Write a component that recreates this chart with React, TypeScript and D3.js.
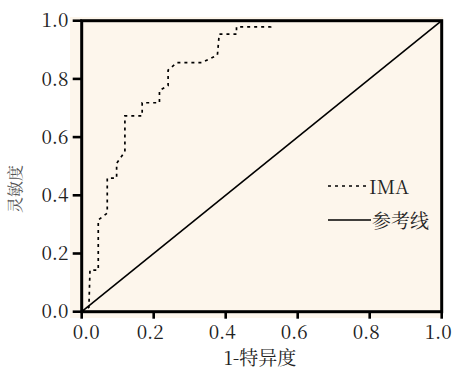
import React from "react";
import * as d3 from "d3";

const ticks = [0, 0.2, 0.4, 0.6, 0.8, 1.0];
const tickLabels = ["0.0", "0.2", "0.4", "0.6", "0.8", "1.0"];
const fpr = [0, 0.02, 0.023, 0.046, 0.046, 0.071, 0.071, 0.097, 0.097, 0.12, 0.12, 0.168, 0.168, 0.216, 0.216, 0.24, 0.24, 0.264, 0.333, 0.377, 0.382, 0.43, 0.43, 0.525, 0.527];
const tpr = [0, 0.015, 0.143, 0.143, 0.315, 0.339, 0.459, 0.459, 0.51, 0.55, 0.673, 0.673, 0.718, 0.718, 0.76, 0.777, 0.83, 0.856, 0.856, 0.882, 0.954, 0.954, 0.979, 0.979, 0.988];
const refX = [0, 1];
const refY = [0, 1];
const xTitle = "1-特异度";
const yTitle = "灵敏度";
const legendNames = ["IMA", "参考线"];

export default function App() {
  const W = 453, H = 372;
  const x = d3.scaleLinear().domain([0, 1]).range([81.7, 441.7]);
  const y = d3.scaleLinear().domain([0, 1]).range([311.7, 20.7]);
  const lineGen = d3.line<[number, number]>().x(d => x(d[0])).y(d => y(d[1]));
  const roc = lineGen(fpr.map((v, i) => [v, tpr[i]] as [number, number]));
  const ref = lineGen(refX.map((v, i) => [v, refY[i]] as [number, number]));
  const font = "\"Noto Serif CJK SC\", \"Times New Roman\", serif";
  const bg = "#fdf6ec";
  const txt = "#222";
  return (
    <svg width={W} height={H} style={{ position: "absolute", left: 0, top: 0, fontFamily: font }}>
      <rect x={0} y={0} width={W} height={H} fill="#fff" />
      <rect x={70} y={17} width={443 - 70} height={318 - 17} fill={bg} />
      <path d={ref!} stroke="#000" strokeWidth={1.6} fill="none" />
      <path d={roc!} stroke="#000" strokeWidth={1.7} strokeDasharray="3,4" fill="none" />
      <rect x={x(0)} y={y(1)} width={x(1) - x(0)} height={y(0) - y(1)} fill="none" stroke="#000" strokeWidth={3} />
      {ticks.map((t, i) => (
        <g key={"y" + i}>
          <line x1={x(0) - 9} x2={x(0)} y1={y(t)} y2={y(t)} stroke="#000" strokeWidth={2.6} />
          <text x={68.5} y={y(t)} dy="0.35em" textAnchor="end" fontSize={19} fill={txt}>{tickLabels[i]}</text>
        </g>
      ))}
      {ticks.map((t, i) => (
        <g key={"x" + i}>
          <line x1={x(t)} x2={x(t)} y1={y(0)} y2={y(0) + 7} stroke="#000" strokeWidth={2.6} />
          <text x={x(t) + (i === 0 ? 4.5 : -3.5)} y={332.5} dy="0.35em" textAnchor="middle" fontSize={19} fill={txt}>{tickLabels[i]}</text>
        </g>
      ))}
      <text x={260} y={358} dy="0.35em" textAnchor="middle" fontSize={19} fill={txt}>{xTitle}</text>
      <text transform={`translate(15,189) rotate(-90)`} dy="0.35em" textAnchor="middle" fontSize={16} fill="#555">{yTitle}</text>
      <line x1={328} x2={368} y1={186} y2={186} stroke="#000" strokeWidth={1.7} strokeDasharray="3,4" />
      <text x={369} y={187} dy="0.35em" fontSize={19} fill={txt}>{legendNames[0]}</text>
      <line x1={328} x2={371} y1={220} y2={220} stroke="#000" strokeWidth={1.6} />
      <text x={372} y={221} dy="0.35em" fontSize={19} fill={txt}>{legendNames[1]}</text>
    </svg>
  );
}
